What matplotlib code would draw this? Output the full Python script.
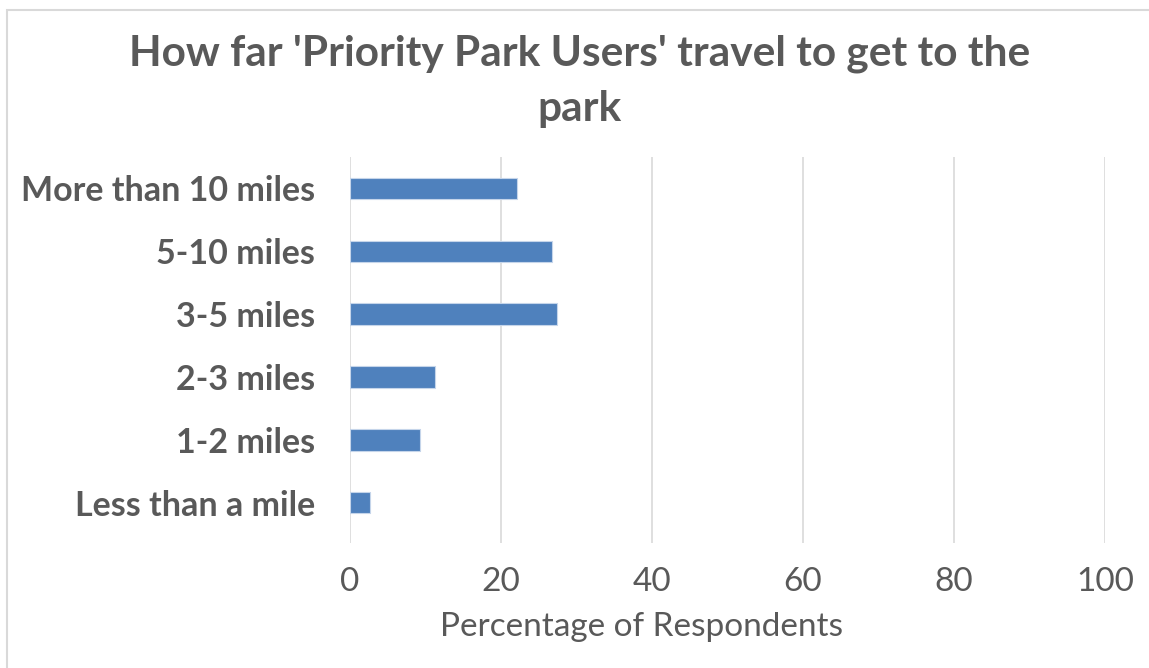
import matplotlib.pyplot as plt
from matplotlib.patches import Rectangle

categories = ["Less than a mile", "1-2 miles", "2-3 miles", "3-5 miles",
              "5-10 miles", "More than 10 miles"]
percentages = [2.6, 9.3, 11.2, 27.4, 26.8, 22.1]
x_ticks = [0, 20, 40, 60, 80, 100]

plt.rcParams['font.family'] = ['Lato', 'DejaVu Sans']

W, H = 1149, 668
fig = plt.figure(figsize=(W / 100, H / 100), dpi=100)
ax = fig.add_axes([350 / W, 1 - 543 / H, (1105 - 350) / W, (543 - 157) / H])

# outer chart border (top and left edges show)
fig.patches.append(Rectangle((7 / W, -0.02), 1.05, 1 - 10 / H + 0.02,
                             transform=fig.transFigure, fill=False,
                             edgecolor="#d9d9d9", linewidth=1.5))

ax.barh(categories, percentages, height=0.34, color="#4f81bd",
        edgecolor="#c5d5ea", linewidth=0.8, zorder=3)

ax.set_xlim(0, 100)
ax.set_ylim(-0.64, 5.5)
ax.set_xticks(x_ticks)
ax.grid(axis="x", color="#d9d9d9", linewidth=1.2, zorder=0)
for s in ax.spines.values():
    s.set_visible(False)
ax.tick_params(length=0)
ax.tick_params(axis="x", labelsize=24, labelcolor="#595959", pad=17)
ax.tick_params(axis="y", labelsize=24.5, labelcolor="#595959", pad=25)
for lbl in ax.get_yticklabels():
    lbl.set_fontweight("bold")

fig.text(642 / W, 1 - 627 / H, "Percentage of Respondents", ha="center", va="center",
         fontsize=24, color="#595959")

fig.text(580 / W, 1 - 81 / H, "How far 'Priority Park Users' travel to get to the\npark",
         ha="center", va="center", fontsize=30.5, fontweight="bold", color="#595959",
         linespacing=1.55)

fig.savefig("out.png", dpi=100)
